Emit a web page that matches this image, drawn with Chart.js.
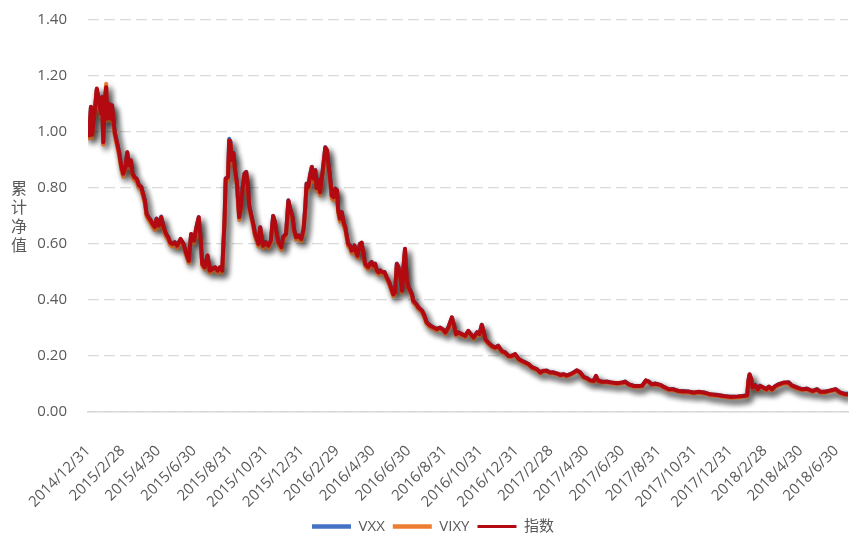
<!DOCTYPE html>
<html>
<head>
<meta charset="utf-8">
<script src="https://cdn.jsdelivr.net/npm/chart.js@4"></script>
<style>
  html, body { margin: 0; padding: 0; background: #fff; }
</style>
</head>
<body>
<canvas id="navChart" width="861" height="540"></canvas>
<script>
// Accumulated NAV, VXX / VIXY vs. index, 2014/12/31 - 2018/7
const startDate = Date.UTC(2014, 11, 31);

const tickLabels = [
  "2014/12/31", "2015/2/28", "2015/4/30", "2015/6/30", "2015/8/31", "2015/10/31",
  "2015/12/31", "2016/2/29", "2016/4/30", "2016/6/30", "2016/8/31", "2016/10/31",
  "2016/12/31", "2017/2/28", "2017/4/30", "2017/6/30", "2017/8/31", "2017/10/31",
  "2017/12/31", "2018/2/28", "2018/4/30", "2018/6/30"
];

// days since 2014/12/31
const dayOffsets = [
  0, 2, 5, 7, 10, 15, 19, 22, 24, 26, 29, 31,
  33, 36, 39, 41, 43, 46, 48, 53, 57, 60, 64, 67,
  70, 73, 76, 79, 83, 87, 91, 94, 97, 100, 103, 107,
  110, 114, 117, 121, 125, 129, 133, 137, 140, 144, 148, 152,
  158, 163, 167, 172, 176, 181, 185, 189, 192, 195, 199, 204,
  208, 212, 217, 221, 225, 229, 233, 235, 239, 241, 243, 245,
  248, 251, 254, 258, 261, 264, 267, 270, 273, 275, 278, 282,
  285, 288, 291, 294, 297, 299, 303, 308, 312, 316, 319, 322,
  325, 330, 333, 338, 342, 345, 349, 352, 355, 359, 364, 368,
  371, 373, 376, 379, 382, 385, 388, 390, 393, 396, 400, 405,
  408, 410, 413, 416, 419, 422, 425, 427, 430, 433, 436, 439,
  442, 444, 447, 450, 455, 457, 460, 464, 467, 470, 473, 478,
  481, 484, 487, 490, 493, 496, 499, 502, 506, 510, 514, 517,
  521, 524, 527, 530, 533, 536, 538, 541, 544, 547, 550, 553,
  555, 560, 564, 570, 574, 578, 584, 590, 595, 601, 607, 610,
  615, 621, 624, 628, 632, 638, 644, 649, 653, 658, 664, 668,
  672, 675, 678, 683, 689, 695, 700, 706, 712, 718, 723, 729,
  735, 740, 746, 752, 758, 766, 772, 777, 783, 789, 794, 801,
  806, 812, 817, 823, 829, 834, 840, 846, 851, 857, 863, 867,
  870, 877, 886, 894, 903, 911, 917, 923, 931, 940, 946, 952,
  957, 962, 968, 977, 982, 991, 999, 1008, 1016, 1025, 1034, 1042,
  1052, 1062, 1073, 1085, 1096, 1108, 1119, 1125, 1127, 1129, 1132, 1134,
  1139, 1143, 1147, 1153, 1158, 1162, 1167, 1173, 1179, 1187, 1196, 1201,
  1210, 1219, 1227, 1236, 1244, 1250, 1258, 1267, 1276, 1284, 1293, 1297
];

const vxxNav = [
  1.000, 0.986, 1.088, 0.989, 1.041, 1.152, 1.105, 1.068, 1.122, 0.962, 1.118, 1.158,
  1.050, 1.098, 1.050, 1.094, 1.047, 0.993, 0.977, 0.929, 0.874, 0.852, 0.876, 0.927,
  0.882, 0.898, 0.853, 0.841, 0.832, 0.810, 0.804, 0.778, 0.756, 0.707, 0.697, 0.685,
  0.671, 0.661, 0.691, 0.665, 0.698, 0.659, 0.637, 0.623, 0.607, 0.599, 0.607, 0.593,
  0.617, 0.601, 0.569, 0.541, 0.635, 0.613, 0.659, 0.695, 0.625, 0.528, 0.518, 0.558,
  0.504, 0.511, 0.516, 0.506, 0.516, 0.504, 0.686, 0.835, 0.840, 0.976, 0.966, 0.902,
  0.925, 0.864, 0.822, 0.697, 0.732, 0.801, 0.852, 0.858, 0.804, 0.738, 0.709, 0.671,
  0.637, 0.617, 0.601, 0.659, 0.613, 0.593, 0.607, 0.595, 0.611, 0.701, 0.679, 0.635,
  0.607, 0.587, 0.625, 0.637, 0.756, 0.727, 0.695, 0.649, 0.623, 0.631, 0.617, 0.655,
  0.738, 0.816, 0.804, 0.847, 0.876, 0.834, 0.864, 0.801, 0.828, 0.786, 0.852, 0.946,
  0.935, 0.888, 0.841, 0.772, 0.768, 0.798, 0.790, 0.721, 0.691, 0.713, 0.679, 0.659,
  0.625, 0.599, 0.595, 0.575, 0.595, 0.577, 0.557, 0.601, 0.604, 0.566, 0.528, 0.518,
  0.530, 0.536, 0.522, 0.530, 0.504, 0.500, 0.506, 0.499, 0.500, 0.479, 0.464, 0.444,
  0.421, 0.426, 0.530, 0.516, 0.482, 0.432, 0.506, 0.582, 0.470, 0.444, 0.434, 0.419,
  0.398, 0.385, 0.374, 0.361, 0.345, 0.319, 0.309, 0.301, 0.297, 0.301, 0.293, 0.283,
  0.303, 0.337, 0.315, 0.277, 0.285, 0.277, 0.273, 0.289, 0.279, 0.265, 0.285, 0.277,
  0.312, 0.289, 0.261, 0.247, 0.237, 0.229, 0.237, 0.217, 0.213, 0.199, 0.201, 0.206,
  0.190, 0.182, 0.178, 0.170, 0.160, 0.152, 0.142, 0.146, 0.148, 0.140, 0.142, 0.136,
  0.133, 0.134, 0.131, 0.134, 0.142, 0.148, 0.142, 0.124, 0.122, 0.112, 0.112, 0.128,
  0.114, 0.107, 0.109, 0.104, 0.104, 0.104, 0.109, 0.098, 0.094, 0.092, 0.095, 0.112,
  0.109, 0.098, 0.102, 0.096, 0.091, 0.080, 0.082, 0.074, 0.075, 0.072, 0.070, 0.071,
  0.070, 0.062, 0.062, 0.056, 0.055, 0.054, 0.058, 0.059, 0.112, 0.134, 0.118, 0.086,
  0.096, 0.080, 0.094, 0.086, 0.082, 0.090, 0.082, 0.092, 0.100, 0.104, 0.106, 0.094,
  0.088, 0.080, 0.084, 0.074, 0.082, 0.071, 0.073, 0.076, 0.082, 0.068, 0.065, 0.066
];

const vixyNav = [
  0.990, 0.978, 1.080, 0.978, 1.030, 1.150, 1.095, 1.055, 1.118, 0.955, 1.112, 1.172,
  1.040, 1.092, 1.038, 1.088, 1.036, 0.982, 0.965, 0.918, 0.864, 0.840, 0.866, 0.918,
  0.871, 0.889, 0.840, 0.828, 0.822, 0.799, 0.792, 0.769, 0.745, 0.698, 0.686, 0.674,
  0.662, 0.650, 0.680, 0.656, 0.686, 0.650, 0.626, 0.614, 0.596, 0.591, 0.597, 0.585,
  0.609, 0.591, 0.561, 0.532, 0.627, 0.603, 0.651, 0.687, 0.615, 0.521, 0.509, 0.551,
  0.497, 0.502, 0.509, 0.497, 0.509, 0.497, 0.672, 0.820, 0.826, 0.962, 0.955, 0.889,
  0.912, 0.852, 0.810, 0.686, 0.721, 0.789, 0.839, 0.846, 0.792, 0.727, 0.698, 0.662,
  0.627, 0.609, 0.591, 0.650, 0.603, 0.585, 0.597, 0.585, 0.603, 0.689, 0.668, 0.627,
  0.597, 0.579, 0.615, 0.627, 0.744, 0.716, 0.686, 0.639, 0.615, 0.621, 0.609, 0.644,
  0.726, 0.803, 0.792, 0.833, 0.863, 0.821, 0.851, 0.789, 0.815, 0.774, 0.839, 0.932,
  0.921, 0.875, 0.828, 0.762, 0.756, 0.786, 0.780, 0.710, 0.680, 0.704, 0.668, 0.651,
  0.615, 0.591, 0.585, 0.567, 0.586, 0.567, 0.550, 0.592, 0.597, 0.557, 0.521, 0.509,
  0.521, 0.527, 0.515, 0.521, 0.497, 0.491, 0.497, 0.492, 0.491, 0.473, 0.456, 0.438,
  0.413, 0.420, 0.520, 0.509, 0.473, 0.426, 0.497, 0.574, 0.461, 0.438, 0.426, 0.413,
  0.391, 0.380, 0.367, 0.356, 0.338, 0.314, 0.303, 0.297, 0.291, 0.297, 0.287, 0.279,
  0.297, 0.332, 0.309, 0.273, 0.279, 0.273, 0.267, 0.285, 0.273, 0.261, 0.279, 0.273,
  0.305, 0.285, 0.255, 0.244, 0.232, 0.226, 0.232, 0.214, 0.208, 0.196, 0.196, 0.203,
  0.185, 0.179, 0.173, 0.168, 0.156, 0.150, 0.138, 0.144, 0.144, 0.138, 0.138, 0.134,
  0.129, 0.132, 0.127, 0.132, 0.138, 0.146, 0.138, 0.122, 0.118, 0.110, 0.108, 0.126,
  0.110, 0.105, 0.105, 0.102, 0.100, 0.102, 0.105, 0.096, 0.090, 0.090, 0.091, 0.110,
  0.105, 0.096, 0.098, 0.094, 0.087, 0.078, 0.078, 0.072, 0.070, 0.070, 0.066, 0.069,
  0.066, 0.060, 0.058, 0.054, 0.051, 0.052, 0.054, 0.057, 0.106, 0.129, 0.112, 0.083,
  0.091, 0.077, 0.089, 0.083, 0.077, 0.087, 0.077, 0.089, 0.095, 0.101, 0.101, 0.091,
  0.083, 0.078, 0.080, 0.072, 0.078, 0.069, 0.069, 0.074, 0.078, 0.066, 0.060, 0.060
];

const indexNav = [
  1.000, 0.988, 1.090, 0.990, 1.040, 1.155, 1.107, 1.066, 1.125, 0.964, 1.120, 1.160,
  1.048, 1.100, 1.048, 1.096, 1.048, 0.994, 0.976, 0.928, 0.875, 0.851, 0.875, 0.928,
  0.881, 0.899, 0.851, 0.839, 0.833, 0.809, 0.803, 0.779, 0.755, 0.708, 0.696, 0.684,
  0.672, 0.660, 0.690, 0.666, 0.696, 0.660, 0.636, 0.624, 0.606, 0.600, 0.606, 0.594,
  0.618, 0.600, 0.570, 0.540, 0.636, 0.612, 0.660, 0.696, 0.624, 0.529, 0.517, 0.559,
  0.505, 0.510, 0.517, 0.505, 0.517, 0.505, 0.684, 0.833, 0.839, 0.970, 0.965, 0.900,
  0.923, 0.863, 0.821, 0.696, 0.731, 0.800, 0.850, 0.857, 0.803, 0.737, 0.708, 0.672,
  0.636, 0.618, 0.600, 0.660, 0.612, 0.594, 0.606, 0.594, 0.612, 0.700, 0.678, 0.636,
  0.606, 0.588, 0.624, 0.636, 0.755, 0.726, 0.696, 0.648, 0.624, 0.630, 0.618, 0.654,
  0.737, 0.815, 0.803, 0.845, 0.875, 0.833, 0.863, 0.800, 0.827, 0.785, 0.851, 0.945,
  0.934, 0.887, 0.840, 0.773, 0.767, 0.797, 0.791, 0.720, 0.690, 0.714, 0.678, 0.660,
  0.624, 0.600, 0.594, 0.576, 0.594, 0.576, 0.558, 0.600, 0.605, 0.565, 0.529, 0.517,
  0.529, 0.535, 0.523, 0.529, 0.505, 0.499, 0.505, 0.500, 0.499, 0.480, 0.463, 0.445,
  0.420, 0.427, 0.529, 0.517, 0.481, 0.433, 0.505, 0.583, 0.469, 0.445, 0.433, 0.420,
  0.397, 0.386, 0.373, 0.362, 0.344, 0.320, 0.308, 0.302, 0.296, 0.302, 0.292, 0.284,
  0.302, 0.338, 0.314, 0.278, 0.284, 0.278, 0.272, 0.290, 0.278, 0.266, 0.284, 0.278,
  0.311, 0.290, 0.260, 0.248, 0.236, 0.230, 0.236, 0.218, 0.212, 0.200, 0.200, 0.207,
  0.189, 0.183, 0.177, 0.171, 0.159, 0.153, 0.141, 0.147, 0.147, 0.141, 0.141, 0.137,
  0.132, 0.135, 0.130, 0.135, 0.141, 0.149, 0.141, 0.125, 0.121, 0.113, 0.111, 0.129,
  0.113, 0.108, 0.108, 0.105, 0.103, 0.105, 0.108, 0.099, 0.093, 0.093, 0.094, 0.113,
  0.108, 0.099, 0.101, 0.097, 0.090, 0.081, 0.081, 0.075, 0.073, 0.073, 0.069, 0.072,
  0.069, 0.063, 0.061, 0.057, 0.054, 0.055, 0.057, 0.060, 0.111, 0.135, 0.117, 0.087,
  0.095, 0.081, 0.093, 0.087, 0.081, 0.091, 0.081, 0.093, 0.099, 0.105, 0.105, 0.095,
  0.087, 0.081, 0.083, 0.075, 0.081, 0.072, 0.072, 0.077, 0.081, 0.069, 0.063, 0.063
];

const yTitle = ["累", "计", "净", "值"];

const textColor = "#595959";
const gridColor = "#D9D9D9";
const fontFamily = "'Open Sans', 'Noto Sans CJK SC', sans-serif";

function labelToDay(label) {
  const [y, m, d] = label.split("/").map(Number);
  return Math.round((Date.UTC(y, m - 1, d) - startDate) / 86400000);
}
const tickDays = tickLabels.map(labelToDay);

function toPoints(values) {
  return values.map((v, i) => ({ x: dayOffsets[i], y: v }));
}

// soft drop shadow under every line, like the office chart
const lineShadow = {
  id: "lineShadow",
  beforeDatasetDraw(chart) {
    const c = chart.ctx;
    c.save();
    c.shadowColor = "rgba(0, 0, 0, 0.42)";
    c.shadowBlur = 6;
    c.shadowOffsetX = 3;
    c.shadowOffsetY = 4;
  },
  afterDatasetDraw(chart) {
    chart.ctx.restore();
  }
};

// y title written top-to-bottom, one character per line
const stackedTitle = {
  id: "stackedTitle",
  afterLayout(chart) {
    // nudge the legend a little right, it sits off-centre in the original
    if (chart.legend) {
      chart.legend.left += 9;
      chart.legend.right += 9;
    }
  },
  afterDraw(chart) {
    const c = chart.ctx;
    const area = chart.chartArea;
    const mid = (area.top + area.bottom) / 2;
    c.save();
    c.font = "16px 'Noto Sans CJK SC'";
    c.fillStyle = textColor;
    c.textAlign = "center";
    c.textBaseline = "middle";
    yTitle.forEach((ch, i) => {
      c.fillText(ch, 19, mid - 28.5 + i * 19);
    });
    c.restore();
  }
};

const ctx = document.getElementById("navChart").getContext("2d");

new Chart(ctx, {
  type: "line",
  data: {
    datasets: [
      {
        label: "VXX",
        data: toPoints(vxxNav),
        borderColor: "#4472C4",
        backgroundColor: "#4472C4",
        borderWidth: 4,
        order: 2,
      },
      {
        label: "VIXY",
        data: toPoints(vixyNav),
        borderColor: "#ED7D31",
        backgroundColor: "#ED7D31",
        borderWidth: 4,
        order: 1,
      },
      {
        label: "指数",
        data: toPoints(indexNav),
        borderColor: "#B20A10",
        backgroundColor: "#B20A10",
        borderWidth: 4,
        order: 0,
      },
    ],
  },
  options: {
    responsive: false,
    animation: false,
    layout: {
      padding: { top: 20, right: 13, left: 0, bottom: -4 },
    },
    elements: {
      point: { radius: 0 },
      line: { tension: 0, borderJoinStyle: "round", borderCapStyle: "round" },
    },
    plugins: {
      legend: {
        position: "bottom",
        labels: {
          usePointStyle: true,
          pointStyle: "line",
          pointStyleWidth: 39,
          color: textColor,
          font: { size: 15, family: fontFamily },
          padding: 8,
          sort: (a, b) => a.datasetIndex - b.datasetIndex,
          generateLabels: (chart) => {
            const items = Chart.defaults.plugins.legend.labels.generateLabels(chart);
            items.forEach((it) => {
              it.lineWidth = it.datasetIndex === 2 ? 3 : 4.5;
            });
            return items;
          },
        },
      },
      tooltip: { enabled: false },
    },
    scales: {
      x: {
        type: "linear",
        min: 0,
        max: 1297,
        afterBuildTicks: (axis) => {
          axis.ticks = tickDays.map((v) => ({ value: v }));
        },
        afterFit: (scale) => {
          scale.height = 99;
          scale.paddingLeft = 0;
          scale.paddingRight = 0;
        },
        ticks: {
          autoSkip: false,
          minRotation: 45,
          maxRotation: 45,
          padding: 30,
          color: textColor,
          font: { size: 15, family: fontFamily },
          callback: (value, index) => tickLabels[index],
        },
        grid: { display: false, drawTicks: false },
        border: { display: true, color: gridColor, width: 1.5 },
      },
      y: {
        min: 0,
        max: 1.4,
        afterFit: (scale) => {
          scale.width = 88;
          scale.paddingTop = 0;
          scale.paddingBottom = 0;
        },
        ticks: {
          stepSize: 0.2,
          padding: 21,
          color: textColor,
          font: { size: 15, family: fontFamily },
          callback: (value) => value.toFixed(2),
        },
        grid: { color: gridColor, lineWidth: 1.3, drawTicks: false },
        border: { display: false, dash: [11, 5] },
      },
    },
  },
  plugins: [lineShadow, stackedTitle],
});
</script>
</body>
</html>
